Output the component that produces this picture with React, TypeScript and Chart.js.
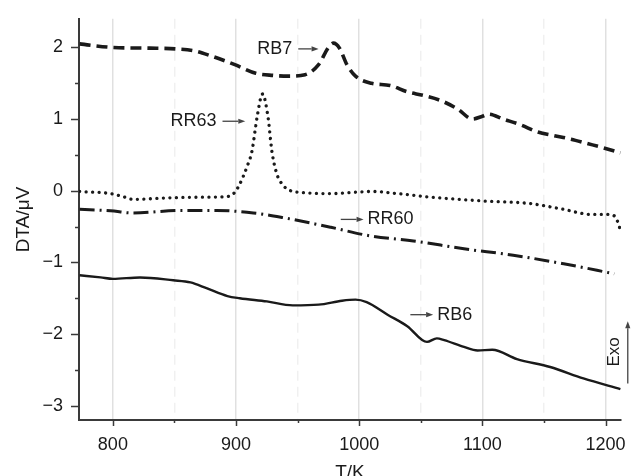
import { useEffect, useRef } from "react";
import { Chart, registerables } from "chart.js";

Chart.register(...registerables);

// Temperature (K) and DTA signal (µV) for each sample
const rb7T = [773, 800, 830, 851, 867, 880, 899, 916, 930, 942, 956, 967, 975, 979, 984, 990, 997, 1010, 1025, 1039, 1052, 1066, 1080, 1092, 1100, 1105, 1117, 1131, 1145, 1158, 1172, 1185, 1198, 1212];
const rb7V = [2.05, 2.0, 1.99, 1.98, 1.95, 1.88, 1.76, 1.64, 1.61, 1.6, 1.62, 1.76, 2.0, 2.06, 1.99, 1.76, 1.6, 1.5, 1.47, 1.38, 1.33, 1.26, 1.14, 1.0, 1.04, 1.07, 1.0, 0.92, 0.82, 0.77, 0.72, 0.66, 0.6, 0.53];

const rr63T = [773, 798, 808, 816, 844, 871, 893, 898, 902, 909, 913, 917, 921.5, 926, 929, 933, 938, 943, 958, 976, 1011, 1031, 1058, 1098, 1139, 1166, 1188, 1201, 1207, 1210, 1212];
const rr63V = [-0.01, -0.04, -0.08, -0.12, -0.1, -0.09, -0.08, -0.04, 0.06, 0.34, 0.56, 1.02, 1.35, 1.02, 0.56, 0.24, 0.08, 0.01, -0.03, -0.04, -0.01, -0.04, -0.09, -0.14, -0.18, -0.26, -0.33, -0.33, -0.35, -0.44, -0.55];

const rr60T = [773, 798, 816, 855, 884, 914, 938, 966, 977, 1009, 1044, 1085, 1125, 1166, 1193, 1207];
const rr60V = [-0.26, -0.28, -0.31, -0.275, -0.275, -0.31, -0.375, -0.47, -0.51, -0.63, -0.7, -0.81, -0.9, -1.02, -1.11, -1.16];

const rb6T = [773, 790, 800, 822, 849, 863, 876, 893, 903, 925, 946, 967, 986, 997, 1006, 1023, 1039, 1055, 1063, 1069, 1085, 1096, 1108, 1128, 1155, 1182, 1212];
const rb6V = [-1.18, -1.21, -1.23, -1.21, -1.25, -1.28, -1.36, -1.47, -1.5, -1.545, -1.6, -1.59, -1.535, -1.52, -1.555, -1.73, -1.89, -2.11, -2.06, -2.085, -2.18, -2.23, -2.22, -2.35, -2.46, -2.62, -2.77];

// Axis ticks
const xTickValues = [800, 850, 900, 950, 1000, 1050, 1100, 1150, 1200];
const yTickValues = [-3, -2.5, -2, -1.5, -1, -0.5, 0, 0.5, 1, 1.5, 2];

const FONT = '"Liberation Sans", Arial, Helvetica, sans-serif';
const INK = "#1a1a1a";

const toPoints = (t: number[], v: number[]) => t.map((x, i) => ({ x, y: v[i] }));

// Sample labels with small pointer arrows (data coordinates)
const callouts = [
  { text: "RB7", v: 1.98, from: 950.5, to: 967, side: "left" },
  { text: "RR63", v: 0.97, from: 889, to: 907.5, side: "left" },
  { text: "RR60", v: -0.4, from: 985, to: 1003.5, side: "right" },
  { text: "RB6", v: -1.73, from: 1041.5, to: 1060, side: "right" },
];

function arrow(ctx: CanvasRenderingContext2D, x0: number, y0: number, x1: number, y1: number) {
  const ang = Math.atan2(y1 - y0, x1 - x0);
  const head = 7;
  const half = 2.6;
  const bx = x1 - head * Math.cos(ang);
  const by = y1 - head * Math.sin(ang);
  ctx.beginPath();
  ctx.moveTo(x0, y0);
  ctx.lineTo(bx, by);
  ctx.stroke();
  ctx.beginPath();
  ctx.moveTo(x1, y1);
  ctx.lineTo(bx + half * Math.sin(ang), by - half * Math.cos(ang));
  ctx.lineTo(bx - half * Math.sin(ang), by + half * Math.cos(ang));
  ctx.closePath();
  ctx.fill();
}

const decorPlugin = {
  id: "decor",
  afterDraw(chart: any) {
    const { ctx, scales, chartArea } = chart;
    const xs = scales.x;
    const ys = scales.y;
    ctx.save();

    // outward tick marks, long on labelled values
    ctx.strokeStyle = "#3a3a3a";
    ctx.lineWidth = 1.5;
    for (const v of yTickValues) {
      const py = Math.round(ys.getPixelForValue(v)) + 0.5;
      const len = Number.isInteger(v) ? 8 : 4;
      ctx.beginPath();
      ctx.moveTo(chartArea.left - len, py);
      ctx.lineTo(chartArea.left, py);
      ctx.stroke();
    }
    for (const v of xTickValues) {
      const px = Math.round(xs.getPixelForValue(v)) + 0.5;
      const len = v % 100 === 0 ? 6 : 3;
      ctx.beginPath();
      ctx.moveTo(px, chartArea.bottom);
      ctx.lineTo(px, chartArea.bottom + len);
      ctx.stroke();
    }

    // sample labels
    ctx.font = `18px ${FONT}`;
    ctx.textBaseline = "middle";
    ctx.lineWidth = 1.3;
    for (const c of callouts) {
      const py = ys.getPixelForValue(c.v);
      const a0 = xs.getPixelForValue(c.from);
      const a1 = xs.getPixelForValue(c.to);
      ctx.strokeStyle = "#444";
      ctx.fillStyle = "#444";
      arrow(ctx, a0, py, a1, py);
      ctx.fillStyle = INK;
      if (c.side === "left") {
        ctx.textAlign = "right";
        ctx.fillText(c.text, a0 - 6, py);
      } else {
        ctx.textAlign = "left";
        ctx.fillText(c.text, a1 + 4, py);
      }
    }

    // exotherm direction marker
    const ex = xs.getPixelForValue(1218);
    ctx.strokeStyle = "#444";
    ctx.fillStyle = "#444";
    arrow(ctx, ex, ys.getPixelForValue(-2.69), ex, ys.getPixelForValue(-1.82));
    ctx.save();
    ctx.translate(xs.getPixelForValue(1207), ys.getPixelForValue(-2.25));
    ctx.rotate(-Math.PI / 2);
    ctx.textAlign = "center";
    ctx.fillStyle = INK;
    ctx.font = `17px ${FONT}`;
    ctx.fillText("Exo", 0, 0);
    ctx.restore();

    ctx.restore();
  },
};

export default function App() {
  const canvasRef = useRef<HTMLCanvasElement | null>(null);

  useEffect(() => {
    const canvas = canvasRef.current;
    if (!canvas) return;
    const line = {
      pointRadius: 0,
      fill: false,
      cubicInterpolationMode: "monotone" as const,
      borderColor: INK,
    };
    const chart = new Chart(canvas, {
      type: "line",
      data: {
        datasets: [
          { ...line, label: "RB7", data: toPoints(rb7T, rb7V), borderWidth: 3.6, borderDash: [11, 6], borderCapStyle: "butt" },
          { ...line, label: "RR63", data: toPoints(rr63T, rr63V), borderWidth: 3.3, borderDash: [0.01, 6.5], borderCapStyle: "round" },
          { ...line, label: "RR60", data: toPoints(rr60T, rr60V), borderWidth: 3, borderDash: [15, 5, 2, 5], borderCapStyle: "butt" },
          { ...line, label: "RB6", data: toPoints(rb6T, rb6V), borderWidth: 2.4 },
        ],
      },
      options: {
        responsive: false,
        animation: false,
        devicePixelRatio: 1,
        layout: { padding: { top: 13, right: 16, left: 0, bottom: 0 } },
        plugins: { legend: { display: false }, tooltip: { enabled: false } },
        scales: {
          x: {
            type: "linear",
            min: 772.5,
            max: 1212.5,
            afterBuildTicks: (s: any) => {
              s.ticks = xTickValues.map((value) => ({ value }));
            },
            afterFit: (s: any) => {
              s.height = 56;
            },
            ticks: {
              autoSkip: false,
              maxRotation: 0,
              padding: 8,
              color: INK,
              font: { family: FONT, size: 18 },
              callback: (v: any) => (Number(v) % 100 === 0 ? String(v) : ""),
            },
            grid: {
              drawTicks: true,
              tickLength: 6,
              tickColor: "transparent",
              lineWidth: 1.5,
              color: (c: any) =>
                c.tick && c.tick.value % 100 !== 0 ? "rgba(0,0,0,0.06)" : "rgba(0,0,0,0.12)",
            },
            border: {
              display: true,
              color: "#3a3a3a",
              width: 2,
              dash: (c: any) => (c.tick && c.tick.value % 100 !== 0 ? [10, 6] : []),
            },
            title: {
              display: true,
              text: "T/K",
              color: INK,
              font: { family: FONT, size: 19 },
              padding: { top: 0, bottom: -8 },
            },
          },
          y: {
            type: "linear",
            min: -3.2,
            max: 2.4,
            afterBuildTicks: (s: any) => {
              s.ticks = yTickValues.map((value) => ({ value }));
            },
            afterFit: (s: any) => {
              s.width = 79;
            },
            ticks: {
              autoSkip: false,
              padding: 8,
              color: INK,
              font: { family: FONT, size: 18 },
              callback: (v: any) => {
                const n = Number(v);
                if (!Number.isInteger(n)) return "";
                return n < 0 ? "\u2212" + Math.abs(n) : String(n);
              },
            },
            grid: {
              drawOnChartArea: false,
              drawTicks: true,
              tickLength: 8,
              tickColor: "transparent",
            },
            border: { display: true, color: "#3a3a3a", width: 2 },
            title: {
              display: true,
              text: "DTA/\u03BCV",
              color: INK,
              font: { family: FONT, size: 19 },
              padding: { top: 12.5, bottom: 0 },
            },
          },
        },
      },
      plugins: [decorPlugin],
    } as any);
    return () => chart.destroy();
  }, []);

  return (
    <div style={{ position: "fixed", left: 0, top: 0, width: 637, height: 476, background: "#fff" }}>
      <canvas ref={canvasRef} width={637} height={476} style={{ display: "block" }} />
    </div>
  );
}
